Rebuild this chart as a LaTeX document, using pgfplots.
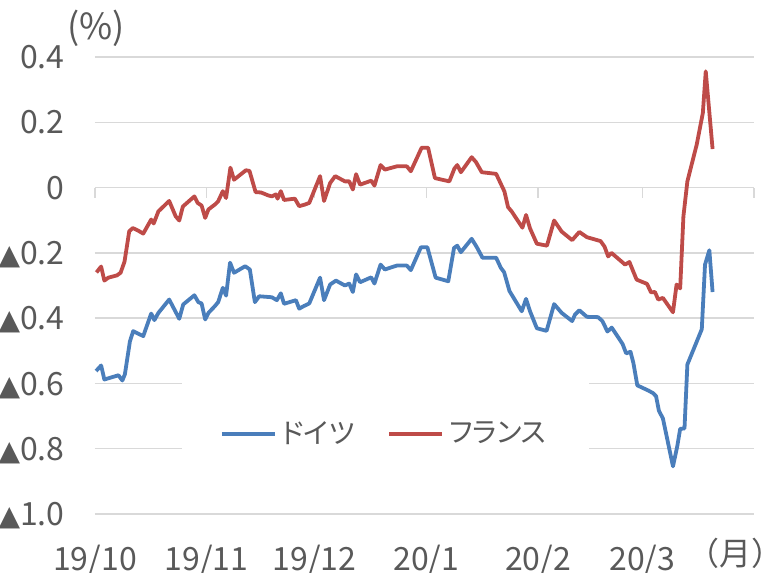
\documentclass[border=0pt]{standalone}
\usepackage{fontspec}
\setmainfont{Noto Sans CJK JP}
\newfontfamily\palt[RawFeature=+palt]{Noto Sans CJK JP}
\newfontfamily\dejavu{DejaVu Sans}
\usepackage{pgfplots}
\pgfplotsset{compat=1.18}

\definecolor{deblue}{HTML}{4A7EBB}
\definecolor{frred}{HTML}{BE4B48}
\definecolor{gridgray}{HTML}{D9D9D9}
\definecolor{txtgray}{HTML}{595959}
\newcommand{\lblfont}{\fontsize{16pt}{19pt}\selectfont}
\newcommand{\tri}{{\dejavu\fontsize{14pt}{14pt}\selectfont ▲}}

\begin{document}
\begin{tikzpicture}
\path[use as bounding box] (-47.5pt,-29.5pt) rectangle (335.5pt,257pt);
\begin{axis}[
  scale only axis, width=329.5pt, height=228.5pt,
  xmin=0, xmax=183, ymin=-1, ymax=0.4,
  enlargelimits=false, clip=false,
  axis x line=middle, axis y line=left,
  x axis line style={gridgray, line width=0.75pt, -},
  y axis line style={draw=none},
  hide obscured x ticks=false, hide obscured y ticks=false,
  xtick={0,31,61,92,123,152,183},
  xticklabels={19/10,19/11,19/12,20/1,20/2,20/3,{}},
  ytick={-1,-0.8,-0.6,-0.4,-0.2,0,0.2,0.4},
  yticklabels={\tri1.0,\tri0.8,\tri0.6,\tri0.4,\tri0.2,0,0.2,0.4},
  tick align=outside, major tick length=5pt,
  xtick style={gridgray, line width=0.75pt},
  ytick style={draw=none},
  ymajorgrids, major grid style={gridgray, line width=0.75pt},
  every tick label/.append style={font=\lblfont, text=txtgray},
  xticklabel style={anchor=base, yshift=-186.5pt},
  yticklabel style={anchor=base east, inner sep=0pt, xshift=-10pt, yshift=-5.8pt},
  legend columns=2,
  legend style={at={(0.441,0.175)}, anchor=center, draw=none, fill=white,
    font={\palt\fontsize{14pt}{17pt}\selectfont}, text=txtgray,
    inner xsep=19pt, inner ysep=18pt,
    nodes={inner sep=2.5pt},
    /tikz/every even column/.append style={column sep=14pt}},
  legend image code/.code={\draw[#1] (0pt,0pt) -- (26.5pt,0pt);},
]
\addplot[deblue, line width=1.9pt, line join=round] coordinates {
(0.3,-0.562) (1.7,-0.545) (2.6,-0.588) (6.5,-0.575) (7.6,-0.591) (8.3,-0.572)
(9.7,-0.471) (10.6,-0.440) (13.4,-0.455) (15.6,-0.386) (16.5,-0.406) (17.6,-0.384)
(20.6,-0.343) (23.4,-0.402) (24.5,-0.358) (27.6,-0.330) (28.7,-0.351) (29.6,-0.355)
(30.6,-0.404) (31.5,-0.384) (33.3,-0.363) (34.2,-0.351) (35.5,-0.307) (36.4,-0.331)
(37.5,-0.230) (38.6,-0.261) (41.7,-0.241) (43.0,-0.251) (44.4,-0.351) (45.6,-0.333)
(49.1,-0.336) (50.5,-0.345) (51.6,-0.324) (52.5,-0.356) (55.8,-0.345) (56.7,-0.371)
(58.0,-0.363) (59.5,-0.355) (62.5,-0.276) (63.6,-0.345) (65.3,-0.297) (66.9,-0.285)
(69.4,-0.300) (70.6,-0.294) (71.6,-0.320) (72.5,-0.266) (73.6,-0.290) (76.7,-0.275)
(77.6,-0.294) (79.3,-0.236) (80.5,-0.251) (83.8,-0.239) (86.6,-0.239) (87.7,-0.253)
(90.5,-0.183) (92.3,-0.183) (94.6,-0.276) (98.1,-0.287) (99.7,-0.185) (100.6,-0.178)
(101.6,-0.198) (104.6,-0.157) (106.0,-0.182) (107.6,-0.215) (111.4,-0.215) (112.7,-0.246)
(113.6,-0.259) (115.1,-0.317) (118.5,-0.379) (119.7,-0.341) (120.8,-0.379) (122.7,-0.431)
(125.4,-0.439) (127.5,-0.357) (129.6,-0.384) (132.5,-0.409) (133.3,-0.389) (134.5,-0.376)
(136.6,-0.396) (139.7,-0.397) (140.9,-0.409) (142.3,-0.441) (143.5,-0.429) (146.5,-0.479)
(147.5,-0.508) (148.7,-0.503) (149.5,-0.537) (150.6,-0.606) (153.7,-0.622) (155.0,-0.630)
(155.8,-0.639) (156.6,-0.684) (157.7,-0.707) (160.5,-0.854) (161.7,-0.792) (162.5,-0.739)
(163.7,-0.738) (164.5,-0.542) (168.5,-0.434) (169.4,-0.236) (170.6,-0.192) (171.5,-0.320)
};
\addlegendentry{ドイツ}
\addplot[frred, line width=1.9pt, line join=round] coordinates {
(0.4,-0.260) (1.7,-0.242) (2.6,-0.285) (3.7,-0.276) (6.1,-0.269) (7.1,-0.261)
(8.2,-0.227) (9.5,-0.134) (10.5,-0.124) (12.0,-0.132) (13.4,-0.141) (15.6,-0.098)
(16.3,-0.110) (17.6,-0.073) (20.6,-0.041) (22.4,-0.088) (23.4,-0.101) (24.4,-0.058)
(27.6,-0.027) (28.5,-0.047) (29.6,-0.055) (30.6,-0.093) (31.5,-0.067) (33.3,-0.052)
(34.2,-0.042) (35.5,-0.011) (36.4,-0.032) (37.6,0.061) (38.6,0.024) (41.9,0.053)
(42.9,0.051) (44.6,-0.014) (46.1,-0.015) (48.1,-0.024) (49.1,-0.027) (50.2,-0.021)
(50.7,-0.034) (51.6,-0.011) (52.5,-0.038) (55.5,-0.034) (56.7,-0.057) (58.3,-0.052)
(59.5,-0.047) (62.5,0.035) (63.6,-0.041) (65.3,0.014) (66.7,0.035) (69.4,0.019)
(70.6,0.019) (71.6,-0.006) (72.5,0.041) (73.6,0.009) (76.7,0.021) (77.6,0.006)
(79.3,0.069) (80.5,0.055) (83.8,0.065) (86.6,0.065) (87.7,0.050) (90.7,0.122)
(92.5,0.122) (94.4,0.029) (98.4,0.019) (99.8,0.058) (100.6,0.069) (101.6,0.047)
(104.6,0.093) (105.8,0.078) (107.4,0.047) (111.4,0.042) (112.8,0.009) (113.7,-0.012)
(114.7,-0.060) (115.7,-0.073) (118.7,-0.123) (119.7,-0.084) (120.8,-0.125) (122.7,-0.172)
(125.5,-0.178) (127.5,-0.101) (129.6,-0.135) (132.5,-0.161) (133.3,-0.151) (134.5,-0.136)
(136.6,-0.152) (140.4,-0.164) (141.5,-0.181) (142.5,-0.211) (143.4,-0.200) (147.2,-0.236)
(148.4,-0.228) (150.4,-0.282) (153.3,-0.295) (154.4,-0.321) (155.5,-0.320) (156.4,-0.343)
(157.7,-0.338) (160.5,-0.382) (161.5,-0.297) (162.5,-0.309) (163.4,-0.088) (164.5,0.019)
(167.1,0.132) (168.8,0.229) (169.6,0.356) (171.5,0.118)
};
\addlegendentry{フランス}
\node[font=\fontsize{18pt}{21pt}\selectfont, text=txtgray, anchor=center] at (axis description cs:0.0015,1.0635) {(\%)};
\node[font=\lblfont, text=txtgray, anchor=base west, inner sep=0pt] at (axis description cs:0.899,-0.1116) {（月）};
\end{axis}
\end{tikzpicture}
\end{document}
